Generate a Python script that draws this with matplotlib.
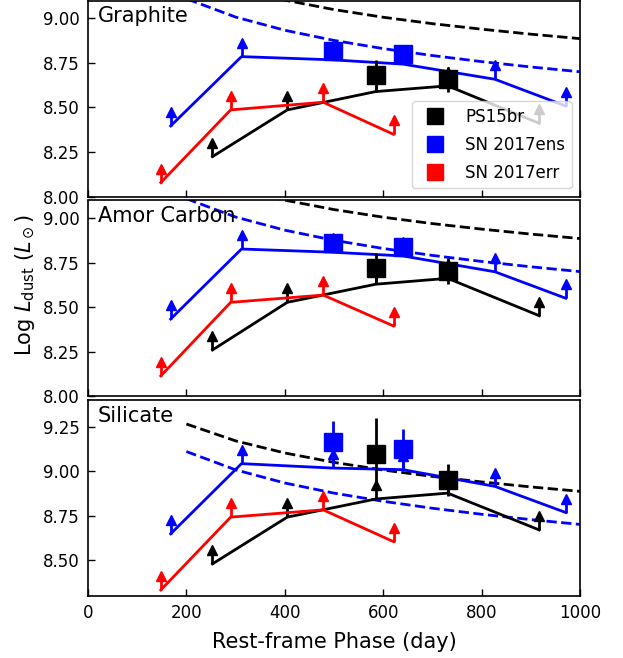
import matplotlib
matplotlib.use("Agg")
import matplotlib.pyplot as plt
from matplotlib.lines import Line2D

# --- DATA ---
# epochs of the lower-limit tracks
ps15br_day = [253, 405, 585, 731, 917]
ens_day = [168, 312, 497, 640, 827, 971]
err_day = [148, 290, 478, 621]

# epochs of the detections (squares)
ps15br_det_day = [585, 731]
ens_det_day = [497, 640]

# model curves (dashed)
curve_day = [200, 300, 400, 500, 600, 700, 800, 900, 1000]
curve_ps15br = [9.265, 9.170, 9.102, 9.049, 9.006, 8.970, 8.939, 8.911, 8.886]
curve_ens = [9.110, 9.007, 8.933, 8.876, 8.830, 8.791, 8.757, 8.727, 8.700]

panel_names = ["Graphite", "Amor Carbon", "Silicate"]

# lower limits, log L_dust
lim_ps15br = [[8.224, 8.486, 8.589, 8.621, 8.411],
              [8.259, 8.527, 8.629, 8.662, 8.452],
              [8.478, 8.741, 8.843, 8.876, 8.669]]
lim_ens = [[8.396, 8.785, 8.767, 8.743, 8.658, 8.508],
           [8.433, 8.827, 8.809, 8.788, 8.699, 8.550],
           [8.647, 9.042, 9.017, 9.008, 8.914, 8.767]]
lim_err = [[8.078, 8.486, 8.529, 8.349],
           [8.113, 8.527, 8.568, 8.394],
           [8.331, 8.741, 8.782, 8.603]]

# detections and their errors
det_ps15br = [[8.683, 8.658], [8.719, 8.703], [9.096, 8.951]]
det_ps15br_err = [[0.085, 0.07], [0.085, 0.075], [0.20, 0.09]]
det_ens = [[8.819, 8.799], [8.859, 8.840], [9.164, 9.125]]
det_ens_err = [[0.03, 0.03], [0.03, 0.03], [0.12, 0.11]]

ylims = [(8.0, 9.1), (8.0, 9.1), (8.3, 9.4)]
yticks = [[8.0, 8.25, 8.5, 8.75, 9.0],
          [8.0, 8.25, 8.5, 8.75, 9.0],
          [8.5, 8.75, 9.0, 9.25]]

STEM = 0.05     # arrow stem length (dex)
HEAD = 0.078    # arrow head centre above the limit
LW = 2

W, H = 623, 658
fig = plt.figure(figsize=(W / 100, H / 100), dpi=100)

# axes boxes in pixels (top, bottom)
boxes = [(0.5, 196.5), (200.5, 396.0), (400.0, 595.5)]
left, right = 88, 580


def lower_limits(ax, x, y, color):
    ax.plot(x, y, color=color, lw=LW, zorder=2)
    ax.vlines(x, y, [v + STEM for v in y], color=color, lw=LW, zorder=2)
    ax.plot(x, [v + HEAD for v in y], ls="none", marker="^", ms=7.5,
            color=color, mec=color, zorder=2)


for i, name in enumerate(panel_names):
    top, bot = boxes[i]
    ax = fig.add_axes([left / W, 1 - bot / H, (right - left) / W, (bot - top) / H])

    ax.plot(curve_day, curve_ps15br, color="k", ls="--", lw=LW, zorder=1)
    ax.plot(curve_day, curve_ens, color="b", ls="--", lw=LW, zorder=1)

    lower_limits(ax, ps15br_day, lim_ps15br[i], "k")
    lower_limits(ax, ens_day, lim_ens[i], "b")
    lower_limits(ax, err_day, lim_err[i], "r")

    ax.errorbar(ps15br_det_day, det_ps15br[i], yerr=det_ps15br_err[i], fmt="s",
                color="k", ms=13.5, elinewidth=LW, capsize=0, zorder=3)
    ax.errorbar(ens_det_day, det_ens[i], yerr=det_ens_err[i], fmt="s",
                color="b", ms=13.5, elinewidth=LW, capsize=0, zorder=3)

    ax.set_xlim(0, 1000)
    ax.set_ylim(*ylims[i])
    ax.set_yticks(yticks[i])
    ax.set_xticks([0, 200, 400, 600, 800, 1000])
    ax.tick_params(direction="in", length=5, width=1, labelsize=12, pad=6)
    ax.yaxis.set_major_formatter(matplotlib.ticker.FormatStrFormatter("%.2f"))
    for s in ax.spines.values():
        s.set_linewidth(1.2)
    ax.text(0.02, 0.97, name, transform=ax.transAxes, fontsize=15,
            va="top", ha="left")

    if i < 2:
        ax.set_xticklabels([])
    else:
        ax.set_xlabel("Rest-frame Phase (day)", fontsize=15, labelpad=7)

    if i == 0:
        handles = [Line2D([], [], ls="none", marker="s", ms=11, color=c)
                   for c in ["k", "b", "r"]]
        ax.legend(handles, ["PS15br", "SN 2017ens", "SN 2017err"],
                  loc="lower right", fontsize=12, numpoints=1,
                  labelspacing=0.6)

fig.text(25 / W, 1 - 285 / H, r"Log $L_{\rm dust}$ ($L_\odot$)", fontsize=15,
         rotation=90, ha="center", va="center")

fig.savefig("out.png", dpi=100)
